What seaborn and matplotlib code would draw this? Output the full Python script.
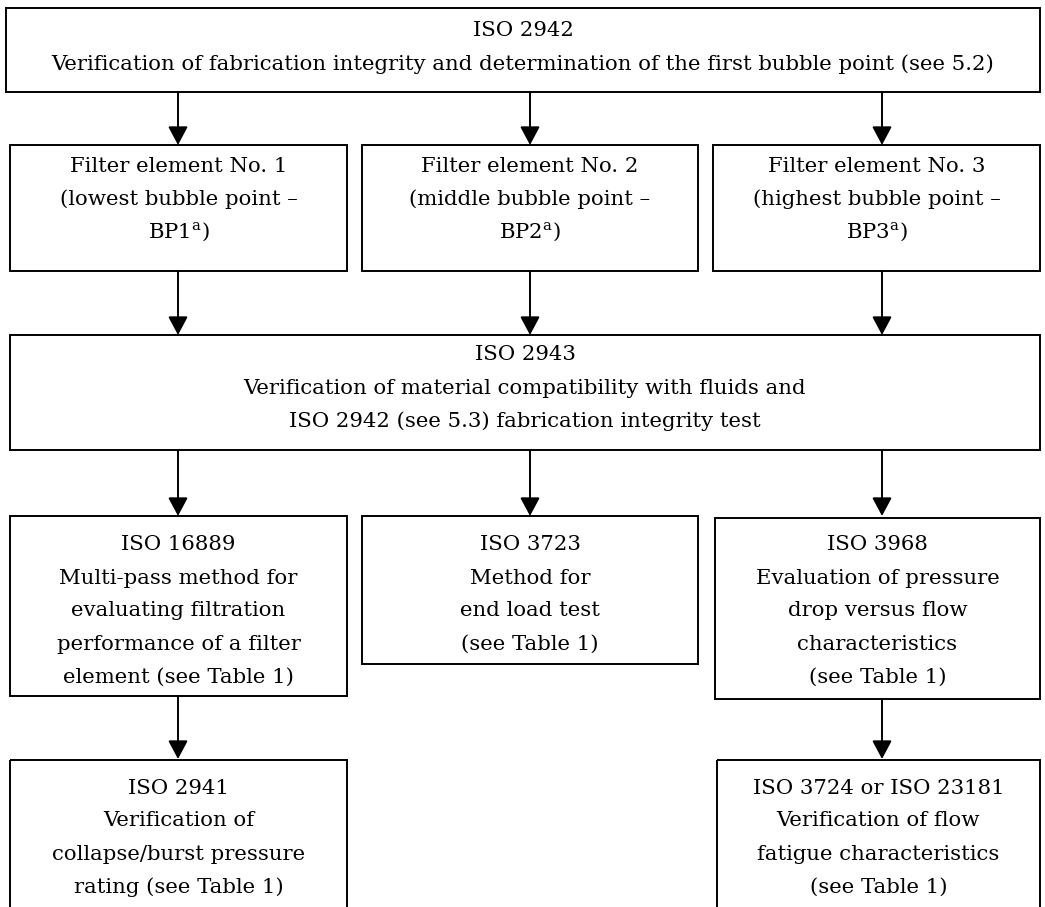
import matplotlib
matplotlib.use("Agg")
import matplotlib.pyplot as plt
import seaborn as sns
from matplotlib.patches import Rectangle

sns.set_theme(style="white")
plt.rcParams['font.family'] = ['DejaVu Serif']

# ---- content (text of each node) ----
top_text = ["ISO 2942",
            "Verification of fabrication integrity and determination of the first bubble point (see 5.2)"]
element_texts = [
    ["Filter element No. 1", "(lowest bubble point \u2013", "BP1$^{\\mathregular{a}}$)"],
    ["Filter element No. 2", "(middle bubble point \u2013", "BP2$^{\\mathregular{a}}$)"],
    ["Filter element No. 3", "(highest bubble point \u2013", "BP3$^{\\mathregular{a}}$)"],
]
compat_text = ["ISO 2943",
               "Verification of material compatibility with fluids and",
               "ISO 2942 (see 5.3) fabrication integrity test"]
test_texts = [
    ["ISO 16889", "Multi-pass method for", "evaluating filtration",
     "performance of a filter", "element (see Table 1)"],
    ["ISO 3723", "Method for", "end load test", "(see Table 1)"],
    ["ISO 3968", "Evaluation of pressure", "drop versus flow",
     "characteristics", "(see Table 1)"],
]
final_texts = [
    ["ISO 2941", "Verification of", "collapse/burst pressure",
     "rating (see Table 1)"],
    ["ISO 3724 or ISO 23181", "Verification of flow",
     "fatigue characteristics", "(see Table 1)"],
]

# ---- layout (pixel coords: x0, y0, x1, y1) ----
W, H = 1045, 907
fig = plt.figure(figsize=(W / 100, H / 100), dpi=100)
ax = fig.add_axes([0, 0, 1, 1])
ax.set_xlim(0, W)
ax.set_ylim(H, 0)
ax.axis("off")

FS = 15.3
LINE = 33
LW = 1.4


def box(x0, y0, x1, y1, lines, ytop):
    ax.add_patch(Rectangle((x0, y0), x1 - x0, y1 - y0, fill=False,
                           edgecolor="black", lw=LW, clip_on=False))
    cx = (x0 + x1) / 2
    for i, t in enumerate(lines):
        ax.text(cx, ytop + i * LINE, t, ha="center", va="center",
                fontsize=FS, color="black")


def arrow(x, y0, y1):
    ax.annotate("", xy=(x, y1), xytext=(x, y0),
                arrowprops=dict(arrowstyle="-|>,head_length=0.75,head_width=0.4",
                                color="black", lw=LW, shrinkA=0, shrinkB=0,
                                mutation_scale=15))


box(6, 8, 1040, 92, top_text, 31)

cols = [(10, 347), (362, 698), (713, 1040)]
centers = [178, 530, 882]
for c in centers:
    arrow(c, 92, 145)
for (x0, x1), txt in zip(cols, element_texts):
    box(x0, 145, x1, 271, txt, 166)
for c in centers:
    arrow(c, 271, 335)

box(10, 335, 1040, 450, compat_text, 355)
for c in centers:
    arrow(c, 450, 516)

box(10, 516, 347, 696, test_texts[0], 545)
box(362, 516, 698, 664, test_texts[1], 545)
box(715, 518, 1040, 699, test_texts[2], 545)

arrow(178, 696, 759)
arrow(882, 699, 759)

box(10, 760, 347, 920, final_texts[0], 788)
box(717, 760, 1040, 920, final_texts[1], 788)

fig.savefig("out.png", dpi=100)
